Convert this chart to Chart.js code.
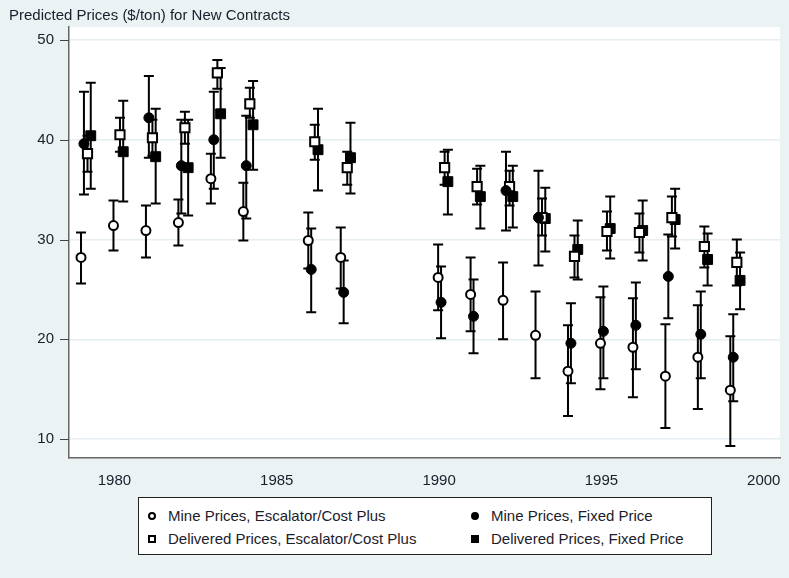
<!DOCTYPE html>
<html>
<head>
<meta charset="utf-8">
<script src="https://cdn.jsdelivr.net/npm/chart.js@4.4.0/dist/chart.umd.min.js"></script>
<style>
  body { margin: 0; background: #eaf2f3; }
  #wrap { position: relative; width: 789px; height: 578px; background: #eaf2f3; font-family: 'Liberation Sans', Arial, sans-serif; color: #1c1c2a; }
  #titre { position: absolute; left: 9px; top: 6px; font-size: 15px; line-height: 17px; }
  #legende { position: absolute; left: 138px; top: 497px; width: 572px; height: 56px; background: #fff; border: 1px solid #222; font-size: 15px; }
  .item { position: absolute; height: 17px; line-height: 17px; }
  .mk { position: absolute; left: 0; top: 5px; width: 8px; height: 8px; box-sizing: border-box; border: 2px solid #000; background: #fff; }
  .rond { border-radius: 50%; }
  .plein { background: #000; }
  .item span { position: absolute; white-space: nowrap; }
</style>
</head>
<body>
<div id="wrap">
  <canvas id="myChart" width="789" height="578"></canvas>
  <div id="titre">Predicted Prices ($/ton) for New Contracts</div>
  <div id="legende">
    <div class="item" style="left:9px;top:9px"><div class="mk rond"></div><span style="left:20px">Mine Prices, Escalator/Cost Plus</span></div>
    <div class="item" style="left:332px;top:9px"><div class="mk rond plein"></div><span style="left:20px">Mine Prices, Fixed Price</span></div>
    <div class="item" style="left:9px;top:32px"><div class="mk"></div><span style="left:20px">Delivered Prices, Escalator/Cost Plus</span></div>
    <div class="item" style="left:332px;top:32px"><div class="mk plein"></div><span style="left:20px">Delivered Prices, Fixed Price</span></div>
  </div>
</div>
<script>
// Années
var annees = [1979, 1980, 1981, 1982, 1983, 1984, 1986, 1987, 1990, 1991, 1992, 1993, 1994, 1995, 1996, 1997, 1998, 1999];

// Mine, escalator / cost plus
var mineEsc    = [28.2, 31.4, 30.9, 31.7, 36.1, 32.8, 29.9, 28.2, 26.2, 24.5, 23.9, 20.4, 16.8, 19.6, 19.2, 16.3, 18.2, 14.9];
var mineEscBas = [25.6, 28.9, 28.2, 29.4, 33.6, 29.9, 27.1, 25.1, 22.9, 20.8, 20.0, 16.1, 12.3, 15.0, 14.2, 11.1, 13.0, 9.3];
var mineEscHaut= [30.7, 33.9, 33.4, 34.0, 38.6, 35.7, 32.7, 31.2, 29.5, 28.2, 27.7, 24.8, 21.4, 24.2, 24.1, 21.5, 23.4, 20.3];

// Mine, fixed price (pas de 1980)
var mineFix    = [39.6, null, 42.2, 37.4, 40.0, 37.4, 27.0, 24.7, 23.7, 22.3, 34.9, 32.2, 19.6, 20.8, 21.4, 26.3, 20.5, 18.2];
var mineFixBas = [34.5, null, 38.2, 32.6, 35.1, 32.1, 22.7, 21.6, 20.1, 18.6, 30.9, 27.4, 15.6, 16.1, 17.0, 22.1, 16.1, 13.8];
var mineFixHaut= [44.8, null, 46.4, 42.0, 44.8, 42.4, 31.1, 27.9, 27.3, 26.0, 38.8, 36.9, 23.6, 25.3, 25.7, 30.5, 24.8, 22.5];

// Delivered, escalator / cost plus
var livEsc    = [38.6, 40.5, 40.2, 41.2, 46.7, 43.6, 39.8, 37.2, 37.2, 35.3, 35.3, 32.2, 28.3, 30.8, 30.7, 32.2, 29.3, 27.7];
var livEscBas = [36.8, 38.8, 38.4, 39.6, 45.1, 42.2, 38.0, 35.5, 35.5, 33.5, 33.4, 30.4, 26.2, 28.9, 28.7, 30.3, 27.2, 25.4];
var livEscHaut= [40.4, 42.2, 42.0, 42.8, 48.0, 45.2, 41.5, 38.8, 38.8, 37.1, 36.9, 34.1, 30.4, 32.8, 32.6, 34.3, 31.3, 30.0];

// Delivered, fixed price
var livFix    = [40.4, 38.8, 38.3, 37.2, 42.6, 41.5, 39.0, 38.2, 35.8, 34.3, 34.3, 32.1, 29.0, 31.1, 30.9, 32.0, 28.0, 25.9];
var livFixBas = [35.1, 33.8, 33.6, 32.4, 38.2, 37.0, 34.9, 34.6, 32.5, 31.1, 31.2, 28.8, 26.0, 28.1, 27.9, 29.1, 25.4, 23.0];
var livFixHaut= [45.7, 43.9, 43.1, 42.0, 47.2, 45.9, 43.1, 41.7, 39.0, 37.4, 37.4, 35.2, 31.9, 34.3, 33.9, 35.1, 30.6, 28.7];

var yTicks = [10, 20, 30, 40, 50];
var xTicks = [1980, 1985, 1990, 1995, 2000];

function points(vals, bas, haut, decal) {
  var res = [];
  for (var i = 0; i < annees.length; i++) {
    if (vals[i] === null) continue;
    res.push({ x: annees[i] + decal, y: vals[i], lo: bas[i], hi: haut[i] });
  }
  return res;
}

// Barres d'erreur dessinées avant les marqueurs
var barresErreur = {
  id: 'barresErreur',
  beforeDatasetsDraw: function (chart) {
    var c = chart.ctx, xs = chart.scales.x, ys = chart.scales.y;
    c.save();
    c.strokeStyle = '#000';
    c.lineWidth = 2;
    chart.data.datasets.forEach(function (ds) {
      ds.data.forEach(function (p) {
        var px = xs.getPixelForValue(p.x);
        var y1 = ys.getPixelForValue(p.lo), y2 = ys.getPixelForValue(p.hi);
        c.beginPath();
        c.moveTo(px, y1); c.lineTo(px, y2);
        c.moveTo(px - 5, y1); c.lineTo(px + 5, y1);
        c.moveTo(px - 5, y2); c.lineTo(px + 5, y2);
        c.stroke();
      });
    });
    c.restore();
  }
};

var fondBlanc = {
  id: 'fondBlanc',
  beforeDraw: function (chart) {
    var a = chart.chartArea, c = chart.ctx;
    c.save();
    c.fillStyle = '#fff';
    c.fillRect(a.left, a.top, a.right - a.left, a.bottom - a.top);
    c.restore();
  }
};

var ctx = document.getElementById('myChart').getContext('2d');
var police = "'Liberation Sans', Arial, sans-serif";

window.myChart = new Chart(ctx, {
  type: 'scatter',
  data: {
    datasets: [
      { label: 'Mine Prices, Escalator/Cost Plus', data: points(mineEsc, mineEscBas, mineEscHaut, -0.03),
        pointStyle: 'circle', pointRadius: 4.5, pointBackgroundColor: '#fff', pointBorderColor: '#000', pointBorderWidth: 2 },
      { label: 'Mine Prices, Fixed Price', data: points(mineFix, mineFixBas, mineFixHaut, 0.06),
        pointStyle: 'circle', pointRadius: 5, pointBackgroundColor: '#000', pointBorderColor: '#000', pointBorderWidth: 1 },
      { label: 'Delivered Prices, Escalator/Cost Plus', data: points(livEsc, livEscBas, livEscHaut, 0.17),
        pointStyle: 'rect', pointRadius: 6.5, pointBackgroundColor: '#fff', pointBorderColor: '#000', pointBorderWidth: 2 },
      { label: 'Delivered Prices, Fixed Price', data: points(livFix, livFixBas, livFixHaut, 0.27),
        pointStyle: 'rect', pointRadius: 7, pointBackgroundColor: '#000', pointBorderColor: '#000', pointBorderWidth: 1 }
    ]
  },
  options: {
    responsive: false,
    animation: false,
    layout: { padding: { left: 0, right: 9, top: 27, bottom: 80 } },
    plugins: { legend: { display: false }, tooltip: { enabled: false } },
    scales: {
      x: {
        type: 'linear', min: 1978.6, max: 2000.5,
        afterBuildTicks: function (s) { s.ticks = xTicks.map(function (v) { return { value: v }; }); },
        afterFit: function (s) { s.height = 40; },
        grid: { display: false, drawTicks: true, tickLength: 7, tickColor: '#444' },
        border: { display: true, color: '#666', width: 1.5 },
        ticks: { color: '#1c1c2a', font: { family: police, size: 15 }, padding: 7, maxRotation: 0,
                 callback: function (v) { return String(v); } }
      },
      y: {
        min: 8.1, max: 51.3,
        afterBuildTicks: function (s) { s.ticks = yTicks.map(function (v) { return { value: v }; }); },
        afterFit: function (s) { s.width = 69; },
        grid: { color: '#e6eef1', lineWidth: 1.5, drawTicks: false },
        border: { display: true, color: '#666', width: 1.5 },
        ticks: { color: '#1c1c2a', font: { family: police, size: 15 }, padding: 15 }
      }
    }
  },
  plugins: [fondBlanc, barresErreur, {
    id: 'tirets',
    afterDraw: function (chart) {
      var c = chart.ctx, ys = chart.scales.y, a = chart.chartArea;
      c.save();
      c.strokeStyle = '#444';
      c.lineWidth = 1;
      yTicks.forEach(function (v) {
        var py = Math.round(ys.getPixelForValue(v)) + 0.5;
        c.beginPath(); c.moveTo(a.left - 9, py); c.lineTo(a.left, py); c.stroke();
      });
      c.restore();
    }
  }]
});
</script>
</body>
</html>
